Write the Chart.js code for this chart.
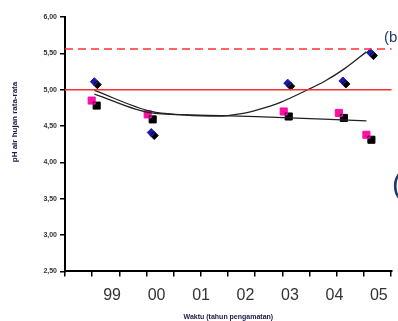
<!DOCTYPE html>
<html>
<head>
<meta charset="utf-8">
<script src="https://cdn.jsdelivr.net/npm/chart.js@4/dist/chart.umd.min.js"></script>
<style>
  html, body { margin: 0; padding: 0; background: #fff; }
  #wrap { width: 398px; height: 321px; }
</style>
</head>
<body>
<div id="wrap"><canvas id="chart"></canvas></div>
<script>
// Data (x in years, y in pH)
const yearLabels = [1999, 2000, 2001, 2002, 2003, 2004, 2005];
const blueX = [1998.60, 1999.88, 2002.95, 2004.19, 2004.81];
const blueY = [5.11, 4.41, 5.09, 5.12, 5.51];
const pinkX = [1998.54, 1999.80, 2002.86, 2004.10, 2004.72];
const pinkY = [4.85, 4.66, 4.70, 4.68, 4.38];
// trend curves, read at several x positions
const blueTrendX = [1998.60, 1999.88, 2000.59, 2001.36, 2001.91, 2002.25, 2002.80, 2003.35, 2003.79, 2004.23, 2004.72];
const blueTrendY = [4.99, 4.70, 4.655, 4.635, 4.67, 4.72, 4.83, 4.985, 5.12, 5.29, 5.52];
const pinkTrendX = [1998.60, 1999.88, 2000.92, 2002.25, 2004.72];
const pinkTrendY = [4.94, 4.68, 4.65, 4.63, 4.57];
// reference levels
const solidLevel = 5.00;
const dashedLevel = 5.56;
const yTitle = 'pH air hujan rata-rata';
const xMin = 1997.94, xMax = 2005.29;
const markStep = 0.611;

const pts = (xs, ys) => xs.map((x, i) => ({ x: x, y: ys[i] }));
const FONT = '"Liberation Sans", Arial, sans-serif';

const shadowPlugin = {
    id: 'shadow',
    beforeDatasetDraw(chart, args) {
        const ds = chart.data.datasets[args.index];
        if (ds.shadow) {
            const ctx = chart.ctx;
            ctx.shadowColor = '#000';
            ctx.shadowBlur = 0;
            ctx.shadowOffsetX = ds.shadow;
            ctx.shadowOffsetY = ds.shadow;
        }
    },
    afterDatasetDraw(chart) {
        const ctx = chart.ctx;
        ctx.shadowColor = 'rgba(0,0,0,0)';
        ctx.shadowOffsetX = 0;
        ctx.shadowOffsetY = 0;
    }
};

const notesPlugin = {
    id: 'notes',
    afterDraw(chart) {
        const ctx = chart.ctx;
        ctx.save();
        ctx.fillStyle = '#1f3a6e';
        ctx.textBaseline = 'alphabetic';
        ctx.font = '15px ' + FONT;
        ctx.fillText('(b', 384, 42);
        ctx.font = '30px ' + FONT;
        ctx.fillText('(', 392, 194);
        // y axis title
        ctx.translate(15, 122);
        ctx.rotate(-Math.PI / 2);
        ctx.textAlign = 'center';
        ctx.textBaseline = 'middle';
        ctx.fillStyle = '#1a1a4a';
        ctx.font = 'bold 8px ' + FONT;
        ctx.fillText(yTitle, 0, 0);
        ctx.restore();
    }
};

new Chart(document.getElementById('chart').getContext('2d'), {
    type: 'scatter',
    data: {
        datasets: [{
            label: 'batas',
            type: 'line',
            data: pts([xMin, xMax], [solidLevel, solidLevel]),
            borderColor: '#ff3030',
            borderWidth: 1.5,
            pointRadius: 0
        }, {
            label: 'batas2',
            type: 'line',
            data: pts([xMin, xMax], [dashedLevel, dashedLevel]),
            borderColor: '#ff3030',
            borderWidth: 1.5,
            borderDash: [8, 5],
            pointRadius: 0
        }, {
            label: 'trend biru',
            type: 'line',
            data: pts(blueTrendX, blueTrendY),
            borderColor: '#222',
            borderWidth: 1.3,
            cubicInterpolationMode: 'monotone',
            pointRadius: 0
        }, {
            label: 'trend merah',
            type: 'line',
            data: pts(pinkTrendX, pinkTrendY),
            borderColor: '#222',
            borderWidth: 1.3,
            cubicInterpolationMode: 'monotone',
            pointRadius: 0
        }, {
            label: 'biru',
            data: pts(blueX, blueY),
            shadow: 3,
            pointStyle: 'rectRot',
            pointRadius: 4,
            backgroundColor: '#1a1aa8',
            borderColor: '#1a1aa8',
            borderWidth: 1
        }, {
            label: 'merah',
            data: pts(pinkX, pinkY),
            shadow: 5,
            pointStyle: 'rect',
            pointRadius: 5,
            backgroundColor: '#ff1493',
            borderColor: '#ff00cc',
            borderWidth: 1
        }]
    },
    options: {
        responsive: true,
        maintainAspectRatio: false,
        animation: false,
        layout: { padding: { top: 17, right: 0, left: 0, bottom: 0 } },
        plugins: { legend: { display: false }, tooltip: { enabled: false } },
        scales: {
            x: {
                type: 'linear',
                position: 'bottom',
                min: xMin,
                max: xMax,
                afterBuildTicks: (axis) => {
                    const t = [];
                    for (let v = xMin; v <= xMax + 1e-6; v += markStep) t.push({ value: v });
                    axis.ticks = t;
                },
                ticks: { display: false },
                grid: { drawOnChartArea: false, tickLength: 5, color: '#000', lineWidth: 1.5 },
                border: { color: '#000', width: 2 }
            },
            x2: {
                type: 'linear',
                position: 'bottom',
                min: xMin,
                max: xMax,
                afterBuildTicks: (axis) => {
                    axis.ticks = yearLabels.map(v => ({ value: v }));
                },
                afterFit: (axis) => { axis.height -= 7; },
                ticks: {
                    padding: 10,
                    color: '#333',
                    maxRotation: 0,
                    font: { family: FONT, size: 16 },
                    callback: (v) => String(v % 100).padStart(2, '0')
                },
                grid: { display: false, drawTicks: false },
                border: { display: false },
                title: {
                    display: true,
                    text: 'Waktu (tahun pengamatan)',
                    color: '#1a1a4a',
                    font: { family: FONT, size: 7, weight: 'bold' },
                    padding: { top: 4, bottom: 0 }
                }
            },
            y: {
                min: 2.5,
                max: 6,
                afterBuildTicks: (axis) => {
                    const t = [];
                    for (let v = 2.5; v <= 6.0001; v += 0.5) t.push({ value: v });
                    axis.ticks = t;
                },
                afterFit: (axis) => { axis.width = 65; },
                ticks: {
                    padding: 3,
                    color: '#333',
                    font: { family: FONT, size: 7, weight: 'bold' },
                    callback: (v) => v.toFixed(2).replace('.', ',')
                },
                grid: { drawOnChartArea: false, tickLength: 5, color: '#000', lineWidth: 1.5 },
                border: { color: '#000', width: 2 }
            }
        }
    },
    plugins: [shadowPlugin, notesPlugin]
});
</script>
</body>
</html>
